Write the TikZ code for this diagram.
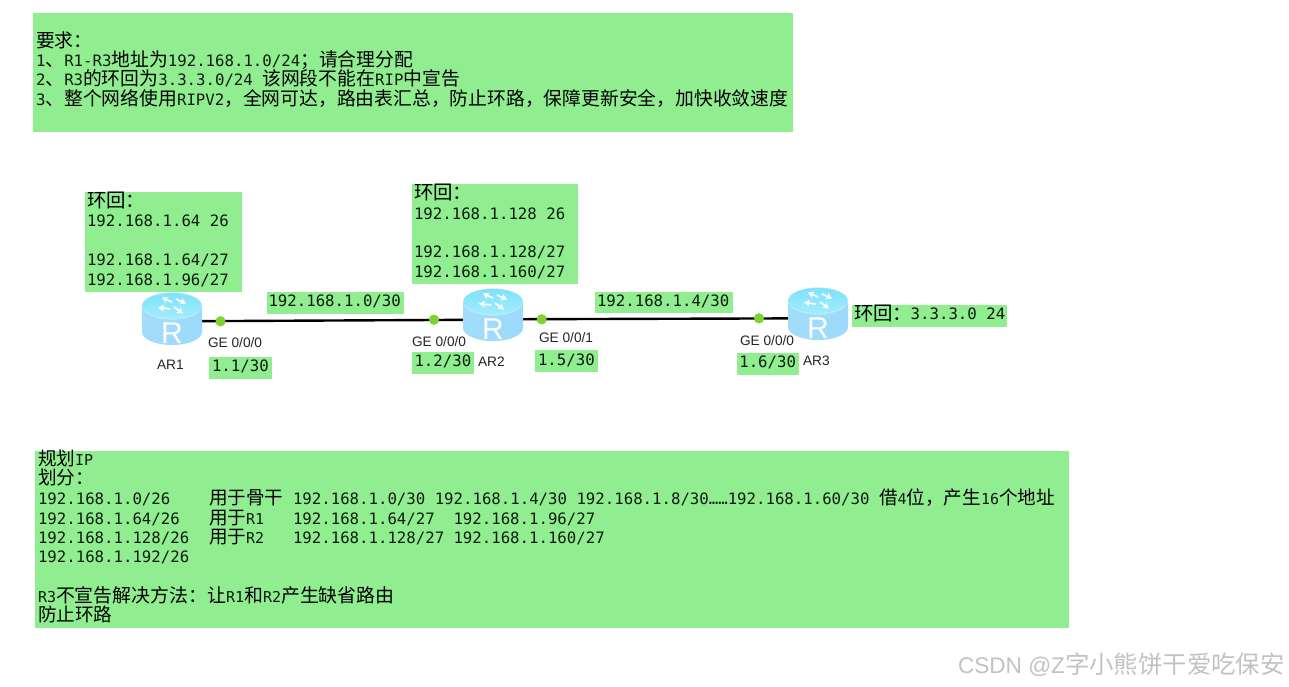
\documentclass[tikz,border=0pt]{standalone}
\usepackage{fontspec}
\setmainfont{Liberation Sans}
\newfontfamily\cjkf{Noto Sans CJK SC}
\newfontfamily\monof{DejaVu Sans Mono}
\usetikzlibrary{arrows.meta}
\definecolor{boxgreen}{HTML}{90EE90}
\definecolor{portgreen}{HTML}{7FD32F}
\definecolor{monoink}{HTML}{0C1C0C}
\newcommand\Z[1]{{\cjkf\fontsize{18.8}{20}\selectfont #1}}
\newcommand\Zb[1]{{\cjkf\fontsize{18.6}{20}\selectfont #1}}
\newcommand\Zd[1]{{\cjkf\fontsize{18.9}{20}\selectfont #1}}
\newcommand\Zc[1]{{\cjkf\fontsize{19.4}{20}\selectfont #1}}
\newcommand\M[1]{{\color{monoink}\monof\fontsize{15.7}{18}\selectfont #1}}
\newcommand\Ms[1]{{\color{monoink}\monof\fontsize{15}{18}\selectfont #1}}
\newcommand\routerart[2]{%
 \begin{scope}[shift={(#1,#2)}]
  \shade[left color=RLeft,middle color=RMid,right color=RRight]
    (-30,-13) -- (-30,13) .. controls (-30,20.2) and (-16.6,26) .. (0,26)
    .. controls (16.6,26) and (30,20.2) .. (30,13) -- (30,-13) -- cycle;
  \fill[RRim] (0,-13) ellipse [x radius=30,y radius=13.6];
  \shade[top color=RTop,bottom color=RTopB] (0,-13.6) ellipse [x radius=29.6,y radius=12.4];
  \foreach \ax/\ay/\bx/\by in {0/-17/-10/-21.5, 4/-20/14/-15.5, -2/-10/-14/-11.5, 2/-12/11/-5.5}{
    \draw[white,line width=1.7,-{Stealth[length=6pt,width=7pt]}] (\ax,\ay) -- (\bx,\by);
  }
  \node[text=white,font=\fontsize{30}{31}\selectfont,inner sep=0] (rlabel#1) at (0,14) {R};
 \end{scope}}
\definecolor{RLeft}{HTML}{A2DCFB}
\definecolor{RMid}{HTML}{6CBCF9}
\definecolor{RRight}{HTML}{9CDAFB}
\definecolor{RRim}{HTML}{B4ECFF}
\definecolor{RTop}{HTML}{80E2FB}
\definecolor{RTopB}{HTML}{A0ECFC}
\tikzset{
  txt/.style={anchor=base west,inner sep=0,outer sep=0,align=left},
  gbox/.style={fill=boxgreen},
  portdot/.style={circle,fill=portgreen,inner sep=0,minimum size=10pt},
  routerbox/.style={inner sep=0,minimum width=60pt,minimum height=52pt},
  lbl/.style={txt,font=\fontsize{13.7}{15}\selectfont,text=black!85},
  link/.style={line width=2.4pt,black}
}
\begin{document}
\begin{tikzpicture}[x=1pt,y=-1pt]
\useasboundingbox (0,0) rectangle (1289,686);
\fill[white] (0,0) rectangle (1289,686);
% top box
\fill[gbox] (33,13) rectangle (793,132);
\node[txt] (t1) at (36,47) {\Z{要求：}};
\node[txt] (t2) at (36,66) {\M{1}\Z{、}\M{R1-R3}\Z{地址为}\M{192.168.1.0/24}\Z{；请合理分配}};
\node[txt] (t3) at (36,85) {\M{2}\Z{、}\M{R3}\Z{的环回为}\M{3.3.3.0/24 }\Z{该网段不能在}\M{RIP}\Z{中宣告}};
\node[txt] (t4) at (36,105) {\M{3}\Z{、整个网络使用}\M{RIPV2}\Z{，全网可达，路由表汇总，防止环路，保障更新安全，加快收敛速度}};
% green labels
\fill[gbox] (85,192) rectangle (242,291.7);
\fill[gbox] (412,184) rectangle (578,284);
\fill[gbox] (266.7,291.7) rectangle (404,313.7);
\fill[gbox] (595.3,291.7) rectangle (733,313.3);
\fill[gbox] (209,356.7) rectangle (271.5,378.5);
\fill[gbox] (412,351.7) rectangle (474,373.7);
\fill[gbox] (535.3,350) rectangle (597.7,372.3);
\fill[gbox] (736.7,353.3) rectangle (799,375);
\fill[gbox] (851.7,305) rectangle (1007,327.3);
\node[txt] (la0) at (87,207) {\Zc{环回：}};
\node[txt] (la1) at (87,226.5) {\M{192.168.1.64 26}};
\node[txt] (la2) at (87,265.7) {\M{192.168.1.64/27}};
\node[txt] (la3) at (87,285) {\M{192.168.1.96/27}};
\node[txt] (lb0) at (414,199.5) {\Zc{环回：}};
\node[txt] (lb1) at (414,219) {\M{192.168.1.128 26}};
\node[txt] (lb2) at (414,257.7) {\M{192.168.1.128/27}};
\node[txt] (lb3) at (414,277.7) {\M{192.168.1.160/27}};
\node[txt] (n1) at (268.5,306.7) {\M{192.168.1.0/30}};
\node[txt] (n2) at (597,306) {\M{192.168.1.4/30}};
\node[txt] (i1) at (212,371.7) {\M{1.1/30}};
\node[txt] (i2) at (414.5,366.7) {\M{1.2/30}};
\node[txt] (i3) at (538,365) {\M{1.5/30}};
\node[txt] (i4) at (739.3,367.7) {\M{1.6/30}};
\node[txt] (lc0) at (854,320.5) {\Zc{环回：}};
\node[txt] (lc1) at (910.7,319.5) {\M{3.3.3.0 24}};
% routers and links
\node[routerbox] (ar1) at (172,319) {};
\node[routerbox] (ar2) at (493,315) {};
\node[routerbox] (ar3) at (818,314) {};
\node[portdot] (p1) at (220.5,321.3) {};
\node[portdot] (p2) at (434,319.7) {};
\node[portdot] (p3) at (541.7,319.3) {};
\node[portdot] (p4) at (759,318.3) {};
\draw[link] ([yshift=-2.3pt]ar1.center) -- ([yshift=-4.7pt]ar2.center);
\draw[link] ([yshift=-4.3pt]ar2.center) -- ([yshift=-4.3pt]ar3.center);
\routerart{172}{319}
\routerart{493}{315}
\routerart{818}{314}
\node[portdot] (q1) at (p1) {};
\node[portdot] (q2) at (p2) {};
\node[portdot] (q3) at (p3) {};
\node[portdot] (q4) at (p4) {};
\node[lbl] (g1) at (208,347.7) {GE 0/0/0};
\node[lbl] (g2) at (412,346) {GE 0/0/0};
\node[lbl] (g3) at (539,342.7) {GE 0/0/1};
\node[lbl] (g4) at (740,345) {GE 0/0/0};
\node[lbl] (a1) at (157,369) {AR1};
\node[lbl] (a2) at (478,366.7) {AR2};
\node[lbl] (a3) at (803,365) {AR3};
% bottom box
\fill[gbox] (35,451) rectangle (1069,628);
\node[txt] (b1) at (38,465) {\Zb{规划}\Ms{IP}};
\node[txt] (b2) at (38,484) {\Zb{划分：}};
\node[txt] (r1a) at (38,504) {\M{192.168.1.0/26}};
\node[txt] (r2a) at (38,524) {\M{192.168.1.64/26}};
\node[txt] (r3a) at (38,543) {\M{192.168.1.128/26}};
\node[txt] (r4a) at (38,562) {\M{192.168.1.192/26}};
\node[txt] (r1b) at (209,504) {\Zb{用于骨干}};
\node[txt] (r2b) at (209,524) {\Zb{用于}\Ms{R1}};
\node[txt] (r3b) at (209,543) {\Zb{用于}\Ms{R2}};
\node[txt] (r1c) at (293,504) {\M{192.168.1.0/30 192.168.1.4/30 192.168.1.8/30……192.168.1.60/30}};
\node[txt] (r1d) at (879,504) {\Zb{借}\Ms{4}\Zb{位，产生}\Ms{16}\Zb{个地址}};
\node[txt] (r2c) at (293,524) {\M{192.168.1.64/27}};
\node[txt] (r2d) at (453.5,524) {\M{192.168.1.96/27}};
\node[txt] (r3c) at (293,543) {\M{192.168.1.128/27}};
\node[txt] (r3d) at (453.5,543) {\M{192.168.1.160/27}};
\node[txt] (b3) at (38,602.7) {\Ms{R3}\Zd{不宣告解决方法：让}\Ms{R1}\Zd{和}\Ms{R2}\Zd{产生缺省路由}};
\node[txt] (b4) at (38,621.7) {\Zb{防止环路}};
% watermark
\node[txt,text=black!24] (wm) at (958,673) {\fontsize{22.6}{25}\selectfont CSDN @Z{\cjkf\fontsize{24.4}{25}\selectfont 字小熊饼干爱吃保安}};
\end{tikzpicture}
\end{document}
